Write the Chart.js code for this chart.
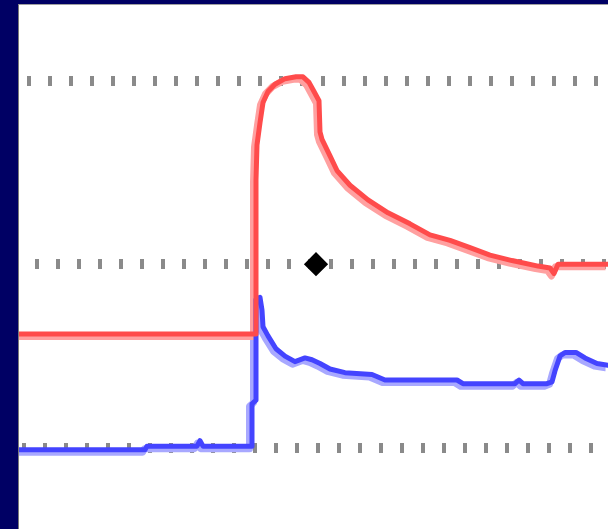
<!DOCTYPE html>
<html>
<head>
<meta charset="utf-8">
<script src="https://cdn.jsdelivr.net/npm/chart.js@4.4.1/dist/chart.umd.min.js"></script>
<style>
  html, body { margin: 0; padding: 0; background: #000064; overflow: hidden; }
  #marco {
    position: absolute; left: 18px; top: 4px;
    width: 589px; height: 524px;
    background: #fff;
    border-left: 1px solid #7a7a7a;
    border-top: 1px solid #a0a0a0;
  }
  canvas { display: block; }
</style>
</head>
<body>
<div id="marco"><canvas id="trazas" width="589" height="524"></canvas></div>
<script>
// muestras (eje X) y valores de cada traza
const rojoT = [0, 26, 237, 237, 238, 241, 244, 249, 256, 266, 277, 284, 290, 295, 300, 301, 303, 311, 318, 331, 349, 369, 391, 411, 431, 451, 471, 493, 519, 531, 535, 539, 551, 571, 589];
const rojoV = [0.62, 0.62, 0.62, 1.46, 1.65, 1.77, 1.88, 1.94, 1.98, 2.01, 2.02, 2.02, 1.99, 1.94, 1.89, 1.72, 1.68, 1.59, 1.51, 1.43, 1.35, 1.28, 1.22, 1.16, 1.13, 1.09, 1.05, 1.02, 0.99, 0.98, 0.95, 1.00, 1.00, 1.00, 1.00];

const azulT = [0, 126, 128, 178, 181, 184, 233, 233, 237, 237, 241, 243, 244, 249, 257, 266, 276, 286, 293, 301, 311, 326, 353, 366, 438, 444, 496, 500, 504, 528, 533, 536, 541, 546, 557, 566, 578, 589];
const azulV = [-0.01, -0.01, 0.01, 0.01, 0.04, 0.01, 0.01, 0.24, 0.26, 0.81, 0.82, 0.75, 0.66, 0.61, 0.54, 0.50, 0.47, 0.49, 0.48, 0.46, 0.43, 0.41, 0.40, 0.37, 0.37, 0.35, 0.35, 0.37, 0.35, 0.35, 0.36, 0.42, 0.50, 0.52, 0.52, 0.49, 0.46, 0.45];

// marcador central
const marcaT = [297];
const marcaV = [1.0];

// lineas de reticula
const reticula = [0, 1, 2];

const puntos = (t, v) => t.map((x, i) => ({ x: x, y: v[i] }));

// desfase del punteado de cada linea de reticula
const desfase = { 0: 18, 1: 5, 2: 13 };

// sombra clara desplazada abajo a la izquierda
const sombra = {
    id: 'sombra',
    beforeDatasetDraw(chart, args) {
        if (chart.data.datasets[args.index].sombra) {
            chart.ctx.save();
            chart.ctx.translate(-2.5, 2.5);
        }
    },
    afterDatasetDraw(chart, args) {
        if (chart.data.datasets[args.index].sombra) chart.ctx.restore();
    }
};

const linea = (datos, color, ancho, orden, conSombra) => ({
    data: datos,
    borderColor: color,
    borderWidth: ancho,
    pointRadius: 0,
    tension: 0,
    fill: false,
    order: orden,
    sombra: conSombra,
    borderJoinStyle: 'round',
    borderCapStyle: 'round'
});

const ctx = document.getElementById("trazas").getContext("2d");
new Chart(ctx, {
    type: "line",
    data: {
        datasets: [
            {
                data: puntos(marcaT, marcaV),
                showLine: false,
                pointStyle: 'rectRot',
                pointRadius: 10,
                pointBackgroundColor: '#000',
                pointBorderColor: '#000',
                pointBorderWidth: 3,
                order: 0
            },
            linea(puntos(rojoT, rojoV), '#ff4b4b', 5, 1, false),
            linea(puntos(azulT, azulV), '#4444ff', 5, 2, false),
            linea(puntos(rojoT, rojoV), '#ffa0a0', 7, 3, true),
            linea(puntos(azulT, azulV), '#a8a8ff', 7, 4, true)
        ]
    },
    options: {
        responsive: false,
        animation: false,
        layout: { padding: 0, autoPadding: false },
        plugins: { legend: { display: false }, tooltip: { enabled: false } },
        scales: {
            x: { type: 'linear', min: 0, max: 589, display: false },
            y: {
                type: 'linear',
                min: -0.441,
                max: 2.411,
                afterBuildTicks: (eje) => { eje.ticks = reticula.map(v => ({ value: v })); },
                afterFit: (eje) => { eje.width = 0; },
                ticks: { display: false },
                grid: { color: '#8a8a8a', lineWidth: 10, drawTicks: false },
                border: {
                    display: false,
                    dash: [4, 17],
                    dashOffset: (c) => desfase[c.tick ? c.tick.value : 0] || 0
                }
            }
        }
    },
    plugins: [sombra]
});
</script>
</body>
</html>
